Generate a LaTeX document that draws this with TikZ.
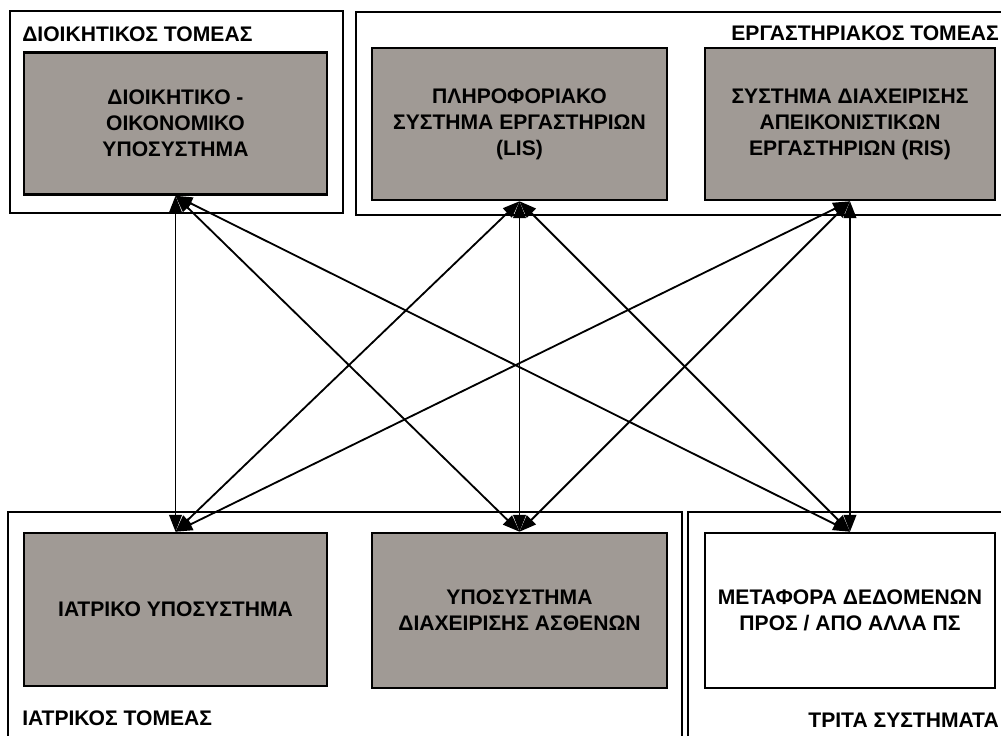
\documentclass[tikz,border=0pt]{standalone}
\usepackage{fontspec}
\setmainfont{Liberation Sans}
\usetikzlibrary{shapes,arrows.meta,positioning}

\definecolor{unitgray}{RGB}{160,154,149}

\begin{document}
\begin{tikzpicture}[x=0.025cm, y=-0.025cm,
            zone/.style={draw, line width=1.6pt},
            unit/.style={rectangle, draw, line width=1.8pt, align=center, inner sep=0pt, font=\fontsize{15}{18.5}\selectfont\bfseries},
            zonelabel/.style={inner sep=0pt, font=\fontsize{15}{17}\selectfont\bfseries},
            link/.style={{Triangle[length=12pt,width=9pt]}-{Triangle[length=12pt,width=9pt]}, line width=1.3pt}
        ]
            \fill[white] (0,0) rectangle (1001,736);
            \useasboundingbox (0,0) rectangle (1001,736);
            \clip (0,0) rectangle (1001,736);

            % Sector frames
            \draw[zone] (10,11) rectangle (343,213);
            \draw[zone] (356,12) rectangle (1008,215);
            \draw[zone] (8,512) rectangle (682,745);
            \draw[zone] (688,512) rectangle (1008,745);

            \node[zonelabel, anchor=west] (admlabel) at (22,34) {ΔΙΟΙΚΗΤΙΚΟΣ ΤΟΜΕΑΣ};
            \node[zonelabel, anchor=east] (lablabel) at (999,33) {ΕΡΓΑΣΤΗΡΙΑΚΟΣ ΤΟΜΕΑΣ};
            \node[zonelabel, anchor=west] (medlabel) at (22,718) {ΙΑΤΡΙΚΟΣ ΤΟΜΕΑΣ};
            \node[zonelabel, anchor=east] (trdlabel) at (999,720) {ΤΡΙΤΑ ΣΥΣΤΗΜΑΤΑ};

            % Subsystems
            \node[unit, fill=unitgray, minimum width=7.575cm, minimum height=3.55cm] (adm) at (175.5,123.5) {ΔΙΟΙΚΗΤΙΚΟ -\\ΟΙΚΟΝΟΜΙΚΟ\\ΥΠΟΣΥΣΤΗΜΑ};
            \node[unit, fill=unitgray, minimum width=7.375cm, minimum height=3.8cm] (lis) at (519.5,124) {ΠΛΗΡΟΦΟΡΙΑΚΟ\\ΣΥΣΤΗΜΑ ΕΡΓΑΣΤΗΡΙΩΝ\\(LIS)};
            \node[unit, fill=unitgray, minimum width=7.25cm, minimum height=3.8cm] (ris) at (850,124) {ΣΥΣΤΗΜΑ ΔΙΑΧΕΙΡΙΣΗΣ\\ΑΠΕΙΚΟΝΙΣΤΙΚΩΝ\\ΕΡΓΑΣΤΗΡΙΩΝ (RIS)};
            \node[unit, fill=unitgray, minimum width=7.575cm, minimum height=3.825cm] (med) at (175.5,609.5) {ΙΑΤΡΙΚΟ ΥΠΟΣΥΣΤΗΜΑ};
            \node[unit, fill=unitgray, minimum width=7.375cm, minimum height=3.875cm] (pat) at (519.5,610.5) {ΥΠΟΣΥΣΤΗΜΑ\\ΔΙΑΧΕΙΡΙΣΗΣ ΑΣΘΕΝΩΝ};
            \node[unit, fill=white, minimum width=7.25cm, minimum height=3.875cm] (trd) at (850,610.5) {ΜΕΤΑΦΟΡΑ ΔΕΔΟΜΕΝΩΝ\\ΠΡΟΣ / ΑΠΟ ΑΛΛΑ ΠΣ};

            % Connections
            \draw[link] (adm.south) -- (med.north);
            \draw[link] (adm.south) -- (pat.north);
            \draw[link] (adm.south) -- (trd.north);
            \draw[link] (lis.south) -- (med.north);
            \draw[link] (lis.south) -- (pat.north);
            \draw[link] (lis.south) -- (trd.north);
            \draw[link] (ris.south) -- (med.north);
            \draw[link] (ris.south) -- (pat.north);
            \draw[link] (ris.south) -- (trd.north);
        \end{tikzpicture}
\end{document}
